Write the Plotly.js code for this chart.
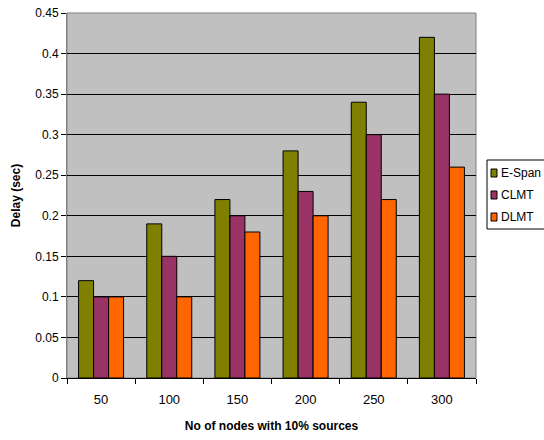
<!DOCTYPE html>
<html>
<head>
<meta charset="utf-8">
<script src="https://cdn.plot.ly/plotly-3.0.1.min.js"></script>
<style>html,body{margin:0;padding:0;background:#fff;}#chart{width:544px;height:440px;}</style>
</head>
<body>
<div id="chart"></div>
<script>
const categories = ["50", "100", "150", "200", "250", "300"];
const eSpan = [0.12, 0.19, 0.22, 0.28, 0.34, 0.42];
const clmt = [0.10, 0.15, 0.20, 0.23, 0.30, 0.35];
const dlmt = [0.10, 0.10, 0.18, 0.20, 0.22, 0.26];
const seriesNames = ["E-Span", "CLMT", "DLMT"];
const colors = ["#808000", "#993366", "#FF6600"];

const values = [eSpan, clmt, dlmt];
const traces = values.map((v, i) => ({
  type: "bar",
  name: seriesNames[i],
  x: categories,
  y: v,
  marker: { color: colors[i], line: { color: "#000", width: 1 } },
  hoverinfo: "none"
}));

// plot area in pixels (for converting the hand-made legend box to paper coords)
const PL = 67, PR = 476, PT = 13, PB = 378;
const px = x => (x - PL) / (PR - PL);
const py = y => (PB - y) / (PB - PT);

const shapes = [
  { type: "rect", xref: "paper", yref: "paper", x0: 0, x1: 1, y0: 0, y1: 1,
    line: { color: "#808080", width: 1 }, layer: "below" },
  { type: "rect", xref: "paper", yref: "paper", x0: px(487), x1: px(560), y0: py(160), y1: py(229),
    line: { color: "#000", width: 1 }, fillcolor: "#fff" }
];
const annotations = [];
const rowY = [173, 195, 217];
seriesNames.forEach((name, i) => {
  shapes.push({ type: "rect", xref: "paper", yref: "paper",
    x0: px(491), x1: px(497), y0: py(rowY[i] - 4), y1: py(rowY[i] + 4),
    line: { color: "#000", width: 1 }, fillcolor: colors[i] });
  annotations.push({ xref: "paper", yref: "paper", x: px(499), y: py(rowY[i]),
    xanchor: "left", yanchor: "middle", showarrow: false, text: name,
    font: { size: 12, color: "#000" } });
});

const layout = {
  width: 544, height: 440,
  margin: { l: 67, r: 68, t: 13, b: 62, pad: 0, autoexpand: false },
  paper_bgcolor: "#ffffff",
  plot_bgcolor: "#C0C0C0",
  barmode: "group",
  bargap: 0.34,
  bargroupgap: 0,
  font: { family: "Liberation Sans, Arial, sans-serif", color: "#000" },
  showlegend: false,
  xaxis: {
    type: "category",
    tickson: "boundaries",
    ticks: "outside", ticklen: 5, tickcolor: "#000",
    ticklabelstandoff: 9,
    showline: true, linecolor: "#000", linewidth: 1,
    showgrid: false,
    tickfont: { size: 13 },
    title: { text: "<b>No of nodes with 10% sources</b>", font: { size: 12 }, standoff: 16 }
  },
  yaxis: {
    range: [0, 0.45], dtick: 0.05, tick0: 0,
    ticks: "outside", ticklen: 5, tickcolor: "#000",
    showline: true, linecolor: "#808080", linewidth: 1,
    showgrid: true, gridcolor: "#000", gridwidth: 1,
    zeroline: false,
    tickfont: { size: 12 },
    title: { text: "<b>Delay (sec)</b>", font: { size: 12 }, standoff: 12 }
  },
  shapes: shapes,
  annotations: annotations
};

Plotly.newPlot("chart", traces, layout, { staticPlot: true });
</script>
</body>
</html>
